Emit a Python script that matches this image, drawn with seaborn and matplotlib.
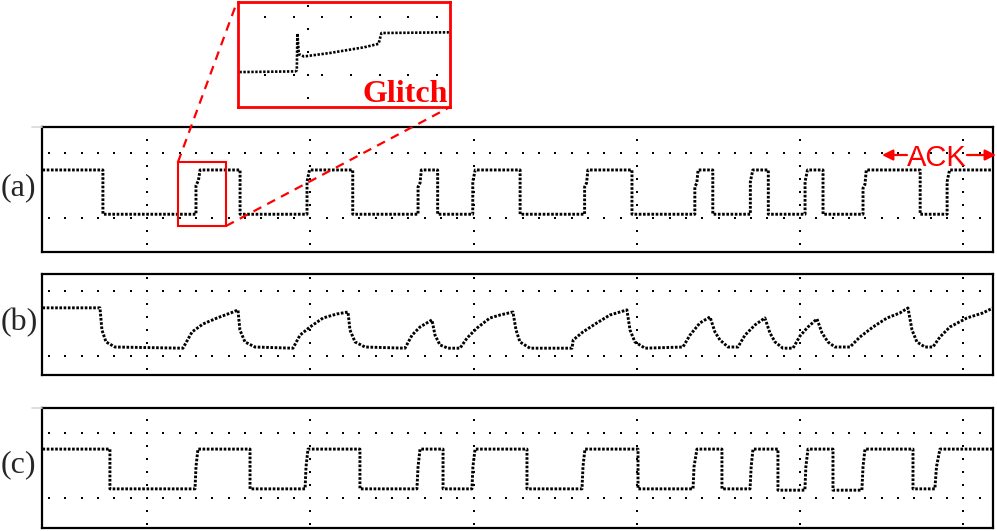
import numpy as np
import matplotlib
matplotlib.use("Agg")
import matplotlib.pyplot as plt
import seaborn as sns
from matplotlib.lines import Line2D
from matplotlib.patches import Rectangle

# ---------------- data (time in grid sub-divisions, level in grid sub-divisions) ----------------
# (a) SDA with glitch
a_t = [-6.4, -2.7, -2.7, 3.0, 3.0, 3.15, 3.25, 5.7, 5.7, 9.8, 9.8, 9.95, 12.6, 12.6,
       16.6, 16.6, 16.72, 16.8, 17.8, 17.8, 19.95, 19.95, 20.1, 22.85, 22.85,
       26.8, 26.8, 26.92, 27.0, 29.7, 29.7, 33.55, 33.55, 33.67, 33.75, 34.65, 34.65,
       36.95, 36.95, 37.1, 38.05, 38.05, 40.3, 40.3, 40.45, 41.4, 41.4,
       43.85, 43.85, 43.97, 44.05, 47.35, 47.35, 49.0, 49.0, 49.15, 51.8]
a_v = [3.7, 3.7, 0.3, 0.3, 2.5, 2.9, 3.7, 3.7, 0.3, 0.3, 2.8, 3.7, 3.7, 0.3,
       0.3, 2.4, 2.7, 3.7, 3.7, 0.3, 0.3, 2.8, 3.7, 3.7, 0.3,
       0.3, 2.4, 2.7, 3.7, 3.7, 0.3, 0.3, 2.4, 2.7, 3.7, 3.7, 0.3,
       0.3, 2.8, 3.7, 3.7, 0.3, 0.3, 2.8, 3.7, 3.7, 0.3,
       0.3, 2.3, 2.6, 3.7, 3.7, 0.3, 0.3, 2.8, 3.7, 3.7]

# (b) slow RC-like waveform
b_t = [-6.4, -2.88, -2.76, -2.51, -1.96,
       2.20, 2.76, 3.43, 4.29, 5.27, 5.57, 5.69, 6.0, 6.61,
       8.94, 9.37, 9.98, 10.78, 11.63, 12.31, 12.43, 12.74, 13.35,
       15.8, 16.23, 16.72, 17.45, 17.64, 17.94, 18.43,
       19.17, 19.6, 20.21, 21.0, 21.62, 22.41, 22.6, 22.84, 23.45,
       26.03, 26.1, 26.7, 27.55, 28.35, 29.39, 29.58, 29.88, 30.5,
       32.82, 33.25, 33.86, 34.48, 34.78, 35.09, 35.58,
       36.19, 36.62, 37.23, 37.84, 38.15, 38.46, 38.94,
       39.56, 39.99, 40.48, 41.03, 41.34, 41.7, 42.13,
       43.05, 43.66, 44.46, 45.32, 46.11, 46.6, 46.85, 47.15, 47.64,
       48.13, 48.56, 49.17, 50.21, 51.19, 51.81]
b_v = [3.7, 3.7, 2.0, 1.08, 0.69,
       0.6, 1.85, 2.46, 2.92, 3.38, 3.54, 2.0, 1.08, 0.69,
       0.6, 1.6, 2.23, 2.92, 3.23, 3.38, 2.0, 1.08, 0.69,
       0.6, 1.6, 2.23, 2.77, 1.6, 0.85, 0.6,
       0.6, 1.38, 2.15, 2.92, 3.15, 3.38, 2.0, 1.08, 0.6,
       0.6, 1.23, 1.85, 2.54, 3.15, 3.54, 2.0, 1.08, 0.6,
       0.69, 1.6, 2.54, 3.0, 1.85, 1.23, 0.69,
       0.69, 1.6, 2.38, 2.92, 1.77, 1.08, 0.6,
       0.6, 1.54, 2.23, 2.85, 1.77, 1.08, 0.69,
       0.69, 1.46, 2.23, 2.92, 3.31, 3.69, 2.0, 1.08, 0.69,
       0.69, 1.46, 2.23, 2.92, 3.31, 3.69]

# (c) clean waveform
c_t = [-6.4, -2.27, -2.27, 2.94, 3.0, 3.12, 6.31, 6.31, 9.68, 9.74, 9.86, 13.04, 13.04,
       16.53, 16.6, 16.72, 18.13, 18.13, 19.90, 19.96, 20.09, 23.27, 23.27,
       26.64, 26.7, 26.82, 30.07, 30.07, 33.44, 33.5, 33.68, 35.21, 35.21,
       36.93, 37.0, 37.11, 38.64, 38.64, 40.29, 40.35, 40.48, 42.01, 42.01,
       43.78, 43.85, 43.97, 46.91, 46.91, 48.25, 48.35, 48.56, 51.8]
c_v = [3.75, 3.75, 0.7, 0.7, 2.4, 3.75, 3.75, 0.7, 0.7, 2.4, 3.75, 3.75, 0.7,
       0.7, 2.4, 3.75, 3.75, 0.7, 0.7, 2.4, 3.75, 3.75, 0.7,
       0.7, 2.4, 3.75, 3.75, 0.7, 0.7, 2.4, 3.75, 3.75, 0.7,
       0.7, 2.4, 3.75, 3.75, 0.6, 0.6, 2.4, 3.75, 3.75, 0.6,
       0.6, 2.4, 3.75, 3.75, 0.7, 0.7, 2.4, 3.75, 3.75]

# zoomed glitch (inset)
g_t = [0.05, 2.0, 2.05, 2.07, 2.12, 2.3, 3.2, 4.4, 4.9, 5.0, 7.35]
g_v = [1.52, 1.55, 1.6, 3.2, 2.3, 2.2, 2.35, 2.6, 2.75, 3.22, 3.25]

panel_labels = ["(a)", "(b)", "(c)"]

# ---------------- figure ----------------
sns.set_style("white")
plt.rcParams['font.family'] = ['Liberation Serif', 'DejaVu Serif']

W, H = 997, 531
fig = plt.figure(figsize=(W / 100, H / 100), dpi=100)


def ax_at(x0, y0, x1, y1):
    return fig.add_axes([x0 / W, 1 - y1 / H, (x1 - x0) / W, (y1 - y0) / H])


def grid_dots(ax, vmin, vmax):
    xs = np.arange(-6, 52)
    for row in (0, 5):
        ax.scatter(xs, np.full(xs.shape, row), s=2.4, marker='s', color='black',
                   linewidths=0, zorder=1)
    vs = np.arange(int(np.ceil(vmin)), int(np.floor(vmax)) + 1)
    for col in range(0, 51, 10):
        ax.scatter(np.full(vs.shape, col), vs, s=2.4, marker='s', color='black',
                   linewidths=0, zorder=1)


def style_ax(ax, color='black', lw=1.6):
    ax.set(xticks=[], yticks=[], xlabel='', ylabel='')
    for sp in ax.spines.values():
        sp.set_visible(True)
        sp.set_color(color)
        sp.set_linewidth(lw)


trace_kw = dict(estimator=None, sort=False, color='black', lw=2.1,
                linestyle=(0, (0.9, 0.55)), zorder=3)

panels = [
    (ax_at(42, 127, 993, 252), a_t, a_v, (-2.6, 7.0), 188, 127),
    (ax_at(42, 274, 993, 375), b_t, b_v, (-1.46, 6.3), 323, None),
    (ax_at(42, 408, 993, 528), c_t, c_v, (-2.3, 6.9), 465, 408),
]
for (ax, t, v, ylim, ly, top), lab in zip(panels, panel_labels):
    grid_dots(ax, *ylim)
    sns.lineplot(x=t, y=v, ax=ax, **trace_kw)
    ax.set_xlim(-6.43, 51.81)
    ax.set_ylim(*ylim)
    style_ax(ax)
    fig.text(1 / W, 1 - ly / H, lab, fontsize=23, ha='left', va='center')
    if top is not None:
        fig.add_artist(Line2D([32 / W, 42 / W], [1 - top / H, 1 - top / H],
                              transform=fig.transFigure, color='#d8d8d8', lw=1.2))

axA = panels[0][0]

# glitch box in (a)
axA.add_patch(Rectangle((1.9, -0.6), 2.94, 4.9, fill=False, ec='red', lw=1.5, zorder=5))

# ACK annotation
fig.text(936.5 / W, 1 - 165.5 / H, "ACK", ha='center', va='baseline', color='red',
         fontsize=21, family=['Liberation Sans', 'DejaVu Sans'])
arrow_kw = dict(arrowstyle='-|>', color='red', lw=1.6, mutation_scale=16,
                shrinkA=0, shrinkB=0)
axA.annotate('', xy=(882, H - 155), xycoords='figure pixels',
             xytext=(907, H - 155), textcoords='figure pixels',
             arrowprops=arrow_kw, annotation_clip=False)
axA.annotate('', xy=(996, H - 155), xycoords='figure pixels',
             xytext=(967, H - 155), textcoords='figure pixels',
             arrowprops=arrow_kw, annotation_clip=False)

# inset
axI = ax_at(238, 2, 450, 107)
gx = np.arange(0.94, 7.2, 1.0)
for row in (3.91, 1.39):
    axI.scatter(gx, np.full(gx.shape, row), s=2.4, marker='s', color='black', linewidths=0)
gv = np.array([0.39, 1.39, 2.39, 3.39, 4.39])
axI.scatter(np.full(gv.shape, 2.44), gv, s=2.4, marker='s', color='black', linewidths=0)
sns.lineplot(x=g_t, y=g_v, ax=axI, estimator=None, sort=False, color='black', lw=1.9,
             linestyle=(0, (0.9, 0.6)))
axI.set_xlim(0, 7.39)
axI.set_ylim(0, 4.57)
style_ax(axI, color='red', lw=2.0)
fig.text(448 / W, 1 - 102 / H, "Glitch", ha='right', va='baseline', color='red',
         fontsize=23, fontweight='bold')

# dashed connector lines
for (x0, y0), (x1, y1) in [((178, 162), (237, 2)), ((226, 226), (450, 107))]:
    fig.add_artist(Line2D([x0 / W, x1 / W], [1 - y0 / H, 1 - y1 / H],
                          transform=fig.transFigure, color='red', lw=1.6,
                          linestyle=(0, (4, 3)), zorder=6))

fig.savefig('out.png', dpi=100)
